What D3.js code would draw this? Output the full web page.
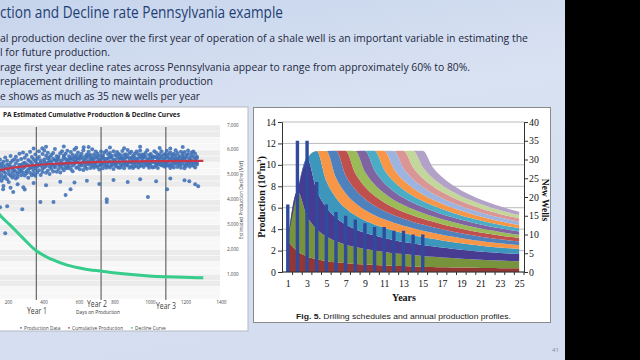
<!DOCTYPE html>
<html><head><meta charset="utf-8">
<script src="https://cdn.jsdelivr.net/npm/d3@7"></script>
<style>html,body{margin:0;padding:0;background:#000;} svg{display:block}</style>
</head><body>
<svg id="c" width="640" height="360"></svg>
<script>
// ---------------- DATA ----------------
const titleText = "ction and Decline rate Pennsylvania example";
const bulletLines = [
  "al production decline over the first year of operation of a shale well is an important variable in estimating the",
  "l for future production.",
  "rage first year decline rates across Pennsylvania appear to range from approximately 60% to 80%.",
  "replacement drilling to maintain production",
  "e shows as much as 35 new wells per year"
];
const slideNumber = "41";

// Left chart
const leftTitle = "PA Estimated Cumulative Production & Decline Curves";
const leftYTicks = [1000, 2000, 3000, 4000, 5000, 6000, 7000];
const leftXTicks = [200, 400, 600, 800, 1000, 1200, 1400];
const yearMarkers = [["Year 1", 365], ["Year 2", 730], ["Year 3", 1095]];
const leftXLabel = "Days on Production";
const leftYLabel = "Estimated Production Decline (Mcf)";
const legendItems = ["Production Data", "Cumulative Production", "Decline Curve"];
// cumulative production curve [day, Mcf]
const cumulativeProduction = [[100,5020],[161,5180],[250,5300],[365,5390],[500,5450],[730,5515],[900,5535],[1095,5548],[1306,5555]];
// decline curve [day, Mcf]
const declineCurve = [[100,3950],[161,3370],[218,2970],[290,2450],[365,1940],[450,1600],[539,1365],[630,1220],[724,1124],[870,1004],[1000,930],[1095,896],[1200,870],[1306,855]];
// production data: "day:v1,v2,v3,v4" values in tens of Mcf
const productionData = `130:505,541,478,522 140:531,496,557,468 150:518,549,502,473 160:537,489,561,512 170:499,528,545,476 180:552,514,487,536 190:507,569,493,528 200:541,482,524,556 210:516,538,471,503 220:548,497,532,575 230:489,523,556,509 240:534,561,498,519 250:512,546,485,572 260:557,503,529,491 270:522,584,511,540 280:498,537,563,516 290:545,509,526,589 300:531,568,497,548 310:514,542,579,506 320:559,521,488,537 330:527,553,508,592 340:546,498,571,529 350:518,562,535,504 360:553,527,581,496 370:509,545,563,532 380:571,518,539,594 390:536,557,499,548 400:524,583,541,511 410:561,529,552,597 420:543,508,576,535 430:517,566,549,588 440:556,532,503,571 450:538,579,524,552 460:564,513,587,541 470:529,558,536,603 480:547,574,512,559 490:572,539,561,523 500:535,586,548,509 510:558,527,594,543 520:541,569,518,577 530:563,546,584,529 540:526,557,539,596 550:574,532,561,547 560:548,591,523,566 570:537,562,579,514 580:569,543,552,601 590:552,578,528,564 600:531,566,549,589 610:575,541,563,522 620:546,584,537,571 630:562,519,598,549 640:539,573,556,531 650:581,548,524,567 660:553,592,541,576 670:527,564,579,545 680:568,536,557,602 690:544,581,528,563 700:572,549,593,536 710:531,567,552,584 720:559,538,576,521 730:546,593,562,539 740:578,526,547,571 750:537,564,589,552 760:563,541,528,596 770:549,582,566,534 780:571,529,553,587 790:542,568,537,576 800:558,594,548,523 810:536,561,579,545 820:574,547,532,591 830:551,583,564,528 840:529,566,542,578 850:567,538,595,554 860:545,579,526,563 870:582,551,568,537 880:538,573,547,599 890:564,528,586,551 900:549,592,533,568 910:576,544,561,527 920:533,569,584,548 930:561,537,552,593 940:547,582,529,566 950:573,548,597,535 960:539,566,554,581 970:568,531,579,549 980:552,587,541,572 990:537,561,598,546 1000:579,544,563,528 1010:548,583,536,569 1020:564,529,574,552 1030:531,571,549,594 1040:569,546,588,537 1050:543,578,527,563 1060:582,551,566,542 1070:538,594,553,571 1080:561,536,579,548 1090:547,583,532,566 1100:574,549,596,538 1110:536,567,554,582 1120:563,541,589,527 1130:552,578,536,569 1140:529,561,584,547 1150:576,543,564,598 1160:548,587,531,562 1170:567,539,575,551 1180:541,592,557,528 1190:573,549,583,566 1200:538,564,526,591 1210:569,547,578,535 1220:554,583,542,597 1230:532,568,561,549 1240:578,541,589,556 1250:547,593,536,571 1260:563,529,552,584 1270:541,572,548,567`;
// sparse points outside the dense cloud [day, Mcf]
const productionOutliers = [[350,6050],[420,6120],[520,6140],[590,6080],[660,6110],[780,6090],[860,6060],[950,6120],[1060,6070],[1120,6050],[1190,6110],[399,6060],[632,6100],
  [180,4550],[220,4480],[260,4620],[300,4410],[350,4670],[420,4580],[500,4720],[580,4690],[650,4760],[720,4630],[800,4790],[880,4710],[950,4820],[1040,4740],[1120,4850],[1200,4780],[1260,4620],
  [178,4420],[235,4300],[292,4500],[201,3735],[286,3615],[161,3695],[190,2650],[388,3900],[462,3900],[530,4180],[558,4420],[762,4015],[762,3900],[994,4100],[1102,4420],[1227,4740],[1277,4540]];

// Right chart
const years = [1,2,3,4,5,6,7,8,9,10,11,12,13,14,15,16,17,18,19,20,21,22,23,24,25];
const yearTickLabels = [1,3,5,7,9,11,13,15,17,19,21,23,25];
const productionTicks = [0,2,4,6,8,10,12,14];
const wellTicks = [0,5,10,15,20,25,30,35,40];
const drillYears = [1,2,3,4,5,6,7,8,9,10,11,12,13,14,15];
const newWells = [18,35,35,24,18,16,15,14,13,12,12,11,11,10,10];
// first-year production of each yearly drilling cohort (10^8 m^3)
const cohortFirstYear = [2.9,5.6,5.4,3.69,2.82,2.5,2.27,2.09,1.95,1.84,1.76,1.68,1.62,1.56,1.52];
// production relative to first year, by cohort age (years)
const declineRatio = [1,0.67,0.5,0.41,0.35,0.31,0.28,0.26,0.24,0.225,0.21,0.2,0.19,0.18,0.171,0.163,0.155,0.148,0.142,0.136,0.131,0.127,0.123,0.12,0.117];
const cohortColors = ["#943634","#77933c","#483c92","#3d97bd","#f79646","#4f81bd","#c0504d","#9bbb59","#8064a2","#4bacc6","#f79646","#9db3e0","#d99694","#c3d69b","#b3a2c7"];
const captionBold = "Fig. 5.";
const captionText = " Drilling schedules and annual production profiles.";

// ---------------- DRAW ----------------
const svg = d3.select("#c");
const defs = svg.append("defs");
const bg = defs.append("linearGradient").attr("id","bg").attr("x1",0).attr("y1",0).attr("x2",0.25).attr("y2",1);
bg.append("stop").attr("offset","0%").attr("stop-color","#c6d4ec");
bg.append("stop").attr("offset","40%").attr("stop-color","#d9e2f2");
bg.append("stop").attr("offset","100%").attr("stop-color","#d4def0");
svg.append("rect").attr("width",565).attr("height",360).attr("fill","url(#bg)");
svg.append("rect").attr("x",565).attr("width",75).attr("height",360).attr("fill","#000");

const sans = "'Open Sans', 'Noto Sans', sans-serif";
svg.append("text").attr("x",0).attr("y",18).attr("font-family",sans).attr("font-size",17)
  .attr("fill","#1f3f72").attr("textLength",283).attr("lengthAdjust","spacingAndGlyphs").text(titleText);
const lineWidths = [528,110,470,213,200];
bulletLines.forEach((t,i)=>{
  svg.append("text").attr("x",0).attr("y",42+i*14.4).attr("font-family",sans).attr("font-size",11.5)
    .attr("fill","#1e2840").attr("textLength",lineWidths[i]).attr("lengthAdjust","spacingAndGlyphs").text(t);
});
svg.append("text").attr("x",552).attr("y",352).attr("font-family",sans).attr("font-size",6).attr("fill","#7d8aa3").text(slideNumber);

// ---- Left chart ----
const L = svg.append("g");
L.append("rect").attr("x",-1).attr("y",107).attr("width",249).attr("height",224).attr("fill","#fff").attr("stroke","#b5b9c2");
defs.append("clipPath").attr("id","lclip").append("rect").attr("x",0).attr("y",108).attr("width",247).attr("height",222);
const xL = d3.scaleLinear().domain([0,1400]).range([-28.5,220]);
const yL = d3.scaleLinear().domain([0,7000]).range([299,125]);
const LP = L.append("g").attr("clip-path","url(#lclip)");
d3.range(0,7000,500).forEach((v,i)=>{
  LP.append("rect").attr("x",xL(0)).attr("width",xL(1400)-xL(0)).attr("y",yL(v+500)).attr("height",yL(v)-yL(v+500))
    .attr("fill", i%2 ? "#ebebeb" : "#f7f7f7");
});
d3.range(0,7001,250).forEach(v=>{
  LP.append("line").attr("x1",xL(0)).attr("x2",xL(1400)).attr("y1",yL(v)).attr("y2",yL(v)).attr("stroke","#fff").attr("stroke-width",0.6);
});
yearMarkers.forEach(([lab,d])=>{
  LP.append("line").attr("x1",xL(d)).attr("x2",xL(d)).attr("y1",127).attr("y2",300).attr("stroke","#4a4a4a").attr("stroke-width",1);
});
const pts = [];
productionData.trim().split(/\s+/).forEach(col=>{
  const [d, vs] = col.split(":");
  vs.split(",").forEach(v=>pts.push([+d, +v*10]));
});
productionOutliers.forEach(p=>pts.push(p));
LP.append("g").selectAll("circle").data(pts).join("circle")
  .attr("cx",d=>xL(d[0])).attr("cy",d=>yL(d[1])).attr("r",2).attr("fill","#3d6fb6").attr("fill-opacity",0.88);
const lineL = d3.line().x(d=>xL(d[0])).y(d=>yL(d[1])).curve(d3.curveMonotoneX);
LP.append("path").attr("d",lineL(cumulativeProduction)).attr("fill","none").attr("stroke","#c8364a").attr("stroke-width",2.2);
LP.append("path").attr("d",lineL(declineCurve)).attr("fill","none").attr("stroke","#35cc8c").attr("stroke-width",3);

leftYTicks.forEach(v=>{
  L.append("text").attr("x",227).attr("y",yL(v)+1.6).attr("font-family",sans).attr("font-size",4.6).attr("fill","#444").text(d3.format(",")(v));
});
leftXTicks.forEach(v=>{
  L.append("text").attr("x",xL(v)+1.5).attr("y",304).attr("text-anchor","middle").attr("font-family",sans).attr("font-size",4.4).attr("fill","#444").text(v);
});
const yearLabelPos = [[27,314],[87,307],[156,309]];
yearMarkers.forEach(([lab,d],i)=>{
  L.append("text").attr("x",yearLabelPos[i][0]).attr("y",yearLabelPos[i][1]).attr("font-family",sans).attr("font-size",8.6).attr("fill","#3c3c3c")
    .attr("textLength",20).attr("lengthAdjust","spacingAndGlyphs").text(lab);
});
L.append("text").attr("x",98).attr("y",314).attr("text-anchor","middle").attr("font-family",sans).attr("font-size",4.8).attr("fill","#333").text(leftXLabel);
L.append("text").attr("transform","translate(243,200) rotate(-90)").attr("text-anchor","middle").attr("font-family",sans).attr("font-size",4.8).attr("fill","#333").text(leftYLabel);
L.append("text").attr("x",3).attr("y",117).attr("font-family",sans).attr("font-weight","bold").attr("font-size",7.5).attr("fill","#222")
  .attr("textLength",177).attr("lengthAdjust","spacingAndGlyphs").text(leftTitle);
const legendX = [21,69,132], legendColors = ["#3f72b8","#c8364a","#35cc8c"];
legendItems.forEach((t,i)=>{
  L.append("circle").attr("cx",legendX[i]).attr("cy",327.8).attr("r",0.9).attr("fill",legendColors[i]);
  L.append("text").attr("x",legendX[i]+3).attr("y",329.5).attr("font-family",sans).attr("font-size",4.8).attr("fill","#444").text(t);
});

// ---- Right chart ----
const R = svg.append("g");
R.append("rect").attr("x",253.5).attr("y",107.5).attr("width",297).attr("height",215).attr("fill","#fff").attr("stroke","#8a8a8a");
const xR = d3.scaleLinear().domain([0.4,25.5]).range([282,524]);
const yR = d3.scaleLinear().domain([0,14]).range([272,122]);
const yW = d3.scaleLinear().domain([0,40]).range([272,122]);
productionTicks.forEach(v=>{
  R.append("line").attr("x1",282).attr("x2",524).attr("y1",yR(v)).attr("y2",yR(v)).attr("stroke","#a9a9a9").attr("stroke-width",0.8);
});
const rows = years.map(t=>{
  const r = {year:t};
  drillYears.forEach((c,i)=>{ r[i] = t < c ? 0 : cohortFirstYear[i]*declineRatio[t-c]; });
  return r;
});
const keys = drillYears.map((c,i)=>i);
const stacked = d3.stack().keys(keys)(rows);
const area = d3.area().x(d=>xR(d.data.year)).y0(d=>yR(d[0])).y1(d=>yR(d[1])).curve(d3.curveMonotoneX);
R.append("g").selectAll("path").data(stacked).join("path").attr("d",area).attr("fill",(d,i)=>cohortColors[i]);
R.append("g").selectAll("rect").data(drillYears).join("rect")
  .attr("x",d=>xR(d)-1.7).attr("width",3.4).attr("y",(d,i)=>yW(newWells[i])).attr("height",(d,i)=>yW(0)-yW(newWells[i]))
  .attr("fill","#2f4b9e");
const serif = "'Liberation Serif', 'DejaVu Serif', serif";
const axL = d3.axisLeft(yR).tickValues(productionTicks).tickSize(4).tickPadding(2).tickFormat(d3.format("d"));
const axRt = d3.axisRight(yW).tickValues(wellTicks).tickSize(4).tickPadding(1);
const axB = d3.axisBottom(xR).tickValues(yearTickLabels).tickSize(0).tickPadding(8);
const gl = R.append("g").attr("transform","translate(282,0)").call(axL);
const gr = R.append("g").attr("transform","translate(524,0)").call(axRt);
const gb = R.append("g").attr("transform","translate(0,272)").call(axB);
[gl,gr,gb].forEach(g=>{
  g.selectAll("text").attr("font-family",serif).attr("font-size",9.8).attr("fill","#111");
  g.selectAll("line,path").attr("stroke","#333");
});
gb.select(".domain").attr("d","M282,0H524");
R.append("g").selectAll("line").data(years).join("line")
  .attr("x1",d=>xR(d+0.5)).attr("x2",d=>xR(d+0.5)).attr("y1",272).attr("y2",275).attr("stroke","#333");
R.append("text").attr("x",404).attr("y",301).attr("text-anchor","middle").attr("font-family",serif).attr("font-weight","bold").attr("font-size",10).attr("fill","#111").text("Years");
const yt = R.append("text").attr("transform","translate(265,197) rotate(-90)").attr("text-anchor","middle").attr("font-family",serif).attr("font-weight","bold").attr("font-size",10).attr("fill","#111");
yt.append("tspan").text("Production (10");
yt.append("tspan").attr("font-size",6.5).attr("dy",-4).text("8");
yt.append("tspan").attr("dy",4).text("m");
yt.append("tspan").attr("font-size",6.5).attr("dy",-4).text("3");
yt.append("tspan").attr("dy",4).text(")");
R.append("text").attr("transform","translate(541.5,200) rotate(90)").attr("text-anchor","middle").attr("font-family",serif).attr("font-weight","bold").attr("font-size",9.5).attr("fill","#111").text("New Wells");
const cap = R.append("text").attr("x",296).attr("y",318.5).attr("font-family","'Liberation Sans', Arial, sans-serif").attr("font-size",7.6).attr("fill","#222")
  .attr("textLength",215).attr("lengthAdjust","spacingAndGlyphs");
cap.append("tspan").attr("font-weight","bold").text(captionBold);
cap.append("tspan").text(captionText);
</script>
</body></html>
